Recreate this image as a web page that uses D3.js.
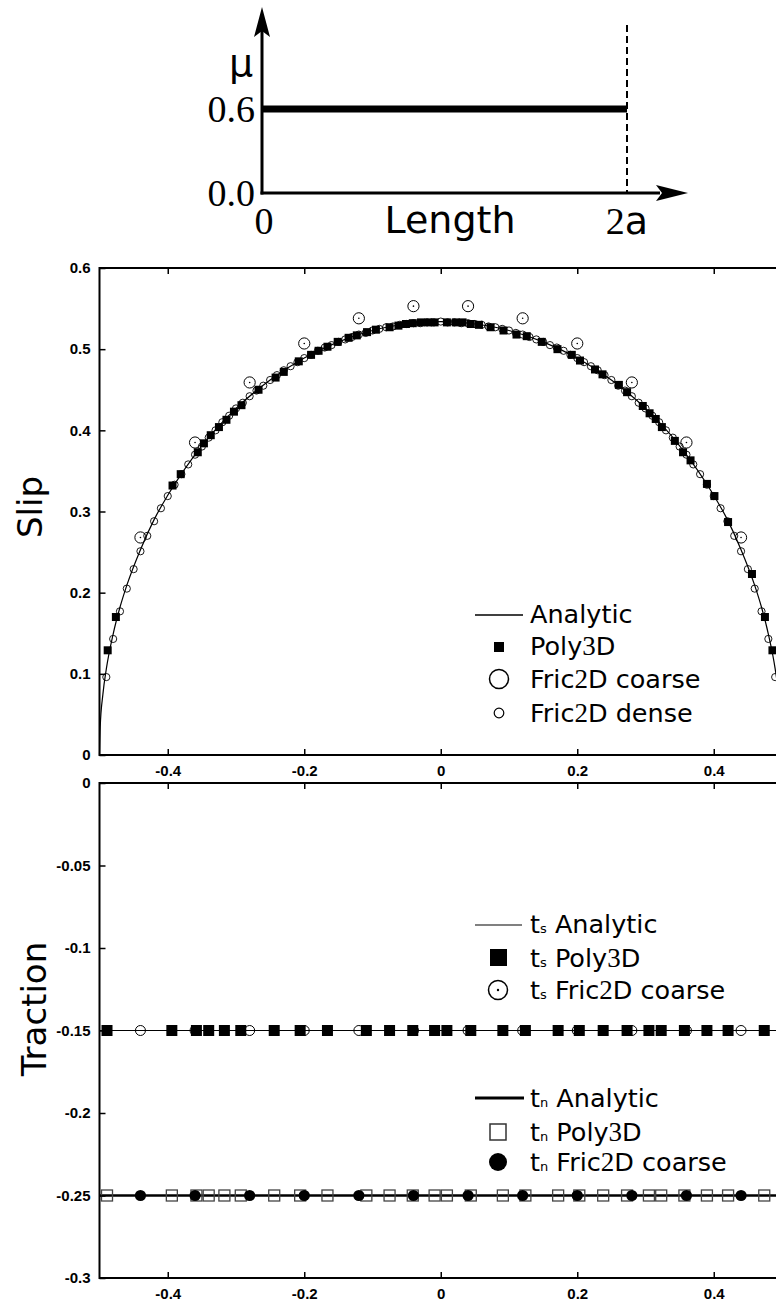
<!DOCTYPE html>
<html>
<head>
<meta charset="utf-8">
<style>
  body { margin: 0; background: #fff; }
  svg { display: block; }
</style>
</head>
<body>
<svg id="fig"></svg>
<script src="https://d3js.org/d3.v7.min.js"></script>
<script>

  // ---- data ----
  var xTicks = [-0.4, -0.2, 0, 0.2, 0.4];
  var xTickLabels = ["-0.4", "-0.2", "0", "0.2", "0.4"];
  var slipTicks = [0, 0.1, 0.2, 0.3, 0.4, 0.5, 0.6];
  var slipTickLabels = ["0", "0.1", "0.2", "0.3", "0.4", "0.5", "0.6"];
  var tracTicks = [0, -0.05, -0.1, -0.15, -0.2, -0.25, -0.3];
  var tracTickLabels = ["0", "-0.05", "-0.1", "-0.15", "-0.2", "-0.25", "-0.3"];

  // friction profile sketch (mu against length in units of a)
  var muLevels = [0, 0.6];
  var muLabels = ["0.0", "0.6"];
  var lengthEnds = [0, 2];

  // slip: analytic solution
  var analyticX = [-0.5, -0.499, -0.495, -0.49, -0.48, -0.47, -0.46, -0.44, -0.42, -0.4, -0.35, -0.3, -0.25, -0.2, -0.15, -0.1, -0.05, 0,
                   0.05, 0.1, 0.15, 0.2, 0.25, 0.3, 0.35, 0.4, 0.42, 0.44, 0.46, 0.47, 0.48, 0.49, 0.495, 0.499, 0.5];
  var analyticSlip = [0, 0.034, 0.075, 0.106, 0.149, 0.182, 0.209, 0.253, 0.290, 0.320, 0.381, 0.427, 0.462, 0.489, 0.509, 0.523, 0.531, 0.534,
                      0.531, 0.523, 0.509, 0.489, 0.462, 0.427, 0.381, 0.320, 0.290, 0.253, 0.209, 0.182, 0.149, 0.106, 0.075, 0.034, 0];

  // slip: Poly3D
  var polySlipX = [-0.488, -0.476, -0.393, -0.381, -0.356, -0.347, -0.337, -0.325, -0.314, -0.303, -0.292, -0.267, -0.242, -0.230, -0.208,
                   -0.190, -0.179, -0.166, -0.151, -0.135, -0.123, -0.108, -0.095, -0.075, -0.062, -0.051, -0.041, -0.029, -0.018, -0.009,
                   0.009, 0.022, 0.032, 0.044, 0.056, 0.073, 0.092, 0.111, 0.126, 0.148, 0.171, 0.192, 0.204, 0.226, 0.237, 0.261, 0.273,
                   0.296, 0.306, 0.315, 0.324, 0.343, 0.355, 0.366, 0.390, 0.401, 0.421, 0.456, 0.475, 0.486];
  var polySlip = [0.129, 0.170, 0.332, 0.346, 0.373, 0.384, 0.394, 0.404, 0.413, 0.423, 0.431, 0.450, 0.465, 0.472, 0.485,
                  0.493, 0.498, 0.503, 0.509, 0.514, 0.517, 0.521, 0.524, 0.527, 0.529, 0.531, 0.532, 0.533, 0.533, 0.533,
                  0.533, 0.533, 0.533, 0.531, 0.530, 0.527, 0.523, 0.518, 0.516, 0.509, 0.500, 0.493, 0.486, 0.475, 0.469, 0.456, 0.447,
                  0.430, 0.421, 0.414, 0.404, 0.387, 0.373, 0.363, 0.334, 0.319, 0.287, 0.223, 0.170, 0.129];

  // slip: Fric2D coarse
  var coarseX = [-0.44, -0.36, -0.28, -0.2, -0.12, -0.04, 0.04, 0.12, 0.2, 0.28, 0.36, 0.44];
  var coarseSlip = [0.268, 0.385, 0.459, 0.507, 0.538, 0.553, 0.553, 0.538, 0.507, 0.459, 0.385, 0.268];

  // slip: Fric2D dense
  var denseX = [-0.49, -0.48, -0.47, -0.46, -0.45, -0.44, -0.43, -0.42, -0.41, -0.40, -0.39, -0.38, -0.37, -0.36, -0.35, -0.34, -0.33,
                -0.32, -0.31, -0.30, -0.29, -0.28, -0.27, -0.26, -0.25, -0.24, -0.23, -0.22, -0.21, -0.20, -0.19, -0.18, -0.17, -0.16,
                -0.15, -0.14, -0.13, -0.12, -0.11, -0.10, -0.09, -0.08, -0.07, -0.06, -0.05, -0.04, -0.03, -0.02, -0.01, 0,
                0.01, 0.02, 0.03, 0.04, 0.05, 0.06, 0.07, 0.08, 0.09, 0.10, 0.11, 0.12, 0.13, 0.14, 0.15, 0.16, 0.17, 0.18, 0.19, 0.20,
                0.21, 0.22, 0.23, 0.24, 0.25, 0.26, 0.27, 0.28, 0.29, 0.30, 0.31, 0.32, 0.33, 0.34, 0.35, 0.36, 0.37, 0.38, 0.39, 0.40,
                0.41, 0.42, 0.43, 0.44, 0.45, 0.46, 0.47, 0.48, 0.49];
  var denseSlip = [0.096, 0.143, 0.177, 0.205, 0.229, 0.251, 0.270, 0.288, 0.304, 0.319, 0.333, 0.346, 0.358, 0.370, 0.380, 0.391, 0.400,
                   0.410, 0.418, 0.427, 0.434, 0.442, 0.449, 0.455, 0.462, 0.468, 0.474, 0.479, 0.484, 0.489, 0.493, 0.498, 0.502, 0.505,
                   0.509, 0.512, 0.515, 0.518, 0.520, 0.523, 0.525, 0.527, 0.528, 0.530, 0.531, 0.532, 0.532, 0.533, 0.533, 0.534,
                   0.533, 0.533, 0.532, 0.532, 0.531, 0.530, 0.528, 0.527, 0.525, 0.523, 0.520, 0.518, 0.515, 0.512, 0.509, 0.505, 0.502,
                   0.498, 0.493, 0.489, 0.484, 0.479, 0.474, 0.468, 0.462, 0.455, 0.449, 0.442, 0.434, 0.427, 0.418, 0.410, 0.400, 0.391,
                   0.380, 0.370, 0.358, 0.346, 0.333, 0.319, 0.304, 0.288, 0.270, 0.251, 0.229, 0.205, 0.177, 0.143, 0.096];

  // traction: analytic values over the fault
  var analyticEndsX = [-0.5, 0.5];
  var tsAnalytic = [-0.15, -0.15];
  var tnAnalytic = [-0.25, -0.25];

  // traction: Poly3D
  var polyTracX = [-0.489, -0.394, -0.358, -0.340, -0.317, -0.293, -0.244, -0.206, -0.166, -0.109, -0.075, -0.041, -0.009, 0.009,
                   0.044, 0.091, 0.124, 0.172, 0.203, 0.238, 0.273, 0.305, 0.323, 0.357, 0.390, 0.421, 0.474];
  var tsPoly = [-0.15, -0.15, -0.15, -0.15, -0.15, -0.15, -0.15, -0.15, -0.15, -0.15, -0.15, -0.15, -0.15, -0.15,
                -0.15, -0.15, -0.15, -0.15, -0.15, -0.15, -0.15, -0.15, -0.15, -0.15, -0.15, -0.15, -0.15];
  var tnPoly = [-0.25, -0.25, -0.25, -0.25, -0.25, -0.25, -0.25, -0.25, -0.25, -0.25, -0.25, -0.25, -0.25, -0.25,
                -0.25, -0.25, -0.25, -0.25, -0.25, -0.25, -0.25, -0.25, -0.25, -0.25, -0.25, -0.25, -0.25];

  // traction: Fric2D coarse (same x as coarseX)
  var tsCoarse = [-0.15, -0.15, -0.15, -0.15, -0.15, -0.15, -0.15, -0.15, -0.15, -0.15, -0.15, -0.15];
  var tnCoarse = [-0.25, -0.25, -0.25, -0.25, -0.25, -0.25, -0.25, -0.25, -0.25, -0.25, -0.25, -0.25];

  // ---- drawing ----
  var W = 776, H = 1303;
  var svg = d3.select("#fig").attr("width", W).attr("height", H);

  var SANS = "'DejaVu Sans', sans-serif";
  var SERIF = "'Liberation Serif', 'DejaVu Serif', serif";
  var TICKFONT = "'Liberation Sans', Arial, sans-serif";

  function zip(xs, ys) {
    return xs.map(function(x, i) { return {x: x, y: ys[i]}; });
  }

  // ---------- friction sketch at the top ----------
  var lenScale = d3.scaleLinear().domain([0, 2]).range([262, 627]);
  var muScale = d3.scaleLinear().domain([0, 0.6]).range([193, 109]);
  var sketch = svg.append("g");

  // axes with arrows
  sketch.append("line")
    .attr("x1", lenScale(0)).attr("x2", lenScale(0))
    .attr("y1", muScale(0) + 1.5).attr("y2", 30)
    .attr("stroke", "#000").attr("stroke-width", 3);
  sketch.append("path")
    .attr("d", "M" + lenScale(0) + ",7 L" + (lenScale(0) + 8) + ",37 L" + lenScale(0) + ",31 L" + (lenScale(0) - 8) + ",37 Z")
    .attr("fill", "#000");
  sketch.append("line")
    .attr("x1", lenScale(0) - 1.5).attr("x2", 660)
    .attr("y1", muScale(0)).attr("y2", muScale(0))
    .attr("stroke", "#000").attr("stroke-width", 3);
  sketch.append("path")
    .attr("d", "M688," + muScale(0) + " L656," + (muScale(0) - 8) + " L662," + muScale(0) + " L656," + (muScale(0) + 8) + " Z")
    .attr("fill", "#000");

  // dashed end of fault
  sketch.append("line")
    .attr("x1", lenScale(2)).attr("x2", lenScale(2))
    .attr("y1", 25).attr("y2", muScale(0))
    .attr("stroke", "#000").attr("stroke-width", 2)
    .attr("stroke-dasharray", "7,4");

  // constant friction coefficient
  sketch.append("line")
    .attr("x1", lenScale(lengthEnds[0])).attr("x2", lenScale(lengthEnds[1]))
    .attr("y1", muScale(muLevels[1])).attr("y2", muScale(muLevels[1]))
    .attr("stroke", "#000").attr("stroke-width", 7);

  sketch.selectAll("text.mu")
    .data(muLevels)
    .enter().append("text")
    .attr("x", 255)
    .attr("y", function(d) { return muScale(d) + 13; })
    .attr("text-anchor", "end")
    .attr("font-family", SERIF)
    .attr("font-size", 38)
    .text(function(d, i) { return muLabels[i]; });

  sketch.append("text")
    .attr("x", 241).attr("y", 76)
    .attr("text-anchor", "middle")
    .attr("font-family", SANS).attr("font-size", 38)
    .text("μ");

  sketch.append("text")
    .attr("x", lenScale(0) + 2).attr("y", 234)
    .attr("text-anchor", "middle")
    .attr("font-family", SERIF).attr("font-size", 38)
    .text("0");
  sketch.append("text")
    .attr("x", 450).attr("y", 233)
    .attr("text-anchor", "middle")
    .attr("font-family", SANS).attr("font-size", 38)
    .text("Length");
  var twoA = sketch.append("text")
    .attr("x", lenScale(2)).attr("y", 234)
    .attr("text-anchor", "middle")
    .attr("font-size", 38);
  twoA.append("tspan").attr("font-family", SERIF).text("2");
  twoA.append("tspan").attr("font-family", SANS).text("a");

  // ---------- shared x scale ----------
  var x = d3.scaleLinear().domain([-0.5, 0.5]).range([99.5, 782]);

  function frameAxes(g, y, yTicks, yLabels, showXLabels) {
    var y0 = y.range()[0], y1 = y.range()[1];
    var xl = x.range()[0], xr = x.range()[1];

    var left = g.append("g")
      .attr("transform", "translate(" + xl + ",0)")
      .call(d3.axisLeft(y).tickValues(yTicks)
        .tickFormat(function(d, i) { return yLabels[i]; })
        .tickSizeInner(-6).tickSizeOuter(0).tickPadding(9));
    var right = g.append("g")
      .attr("transform", "translate(" + xr + ",0)")
      .call(d3.axisRight(y).tickValues(yTicks).tickFormat("")
        .tickSizeInner(-6).tickSizeOuter(0));
    var top = g.append("g")
      .attr("transform", "translate(0," + y1 + ")")
      .call(d3.axisTop(x).tickValues(xTicks).tickFormat("")
        .tickSizeInner(-6).tickSizeOuter(0));
    var bottom = g.append("g")
      .attr("transform", "translate(0," + y0 + ")")
      .call(d3.axisBottom(x).tickValues(xTicks)
        .tickFormat(function(d, i) { return showXLabels ? xTickLabels[i] : ""; })
        .tickSizeInner(-6).tickSizeOuter(0).tickPadding(10));

    [left, right, top, bottom].forEach(function(a) {
      a.select(".domain").remove();
      a.selectAll(".tick line").attr("stroke-width", 1.5);
      a.attr("font-family", TICKFONT).attr("font-size", 15);
      a.selectAll("text").attr("font-weight", "bold").attr("fill", "#000");
    });

    g.append("rect")
      .attr("x", xl).attr("y", y1)
      .attr("width", xr - xl).attr("height", y0 - y1)
      .attr("fill", "none").attr("stroke", "#000").attr("stroke-width", 2);
  }

  function legendText(g, tx, ty, parts) {
    var t = g.append("text")
      .attr("x", tx).attr("y", ty)
      .attr("font-family", SANS).attr("font-size", 25.5).attr("fill", "#000");
    parts.forEach(function(p) {
      var s = t.append("tspan").text(p[0]);
      if (p[1] === "serif") s.attr("font-family", SERIF).attr("font-size", 27);
      if (p[1] === "sub") s.attr("font-size", 13);
    });
  }

  // ---------- slip panel ----------
  var ySlip = d3.scaleLinear().domain([0, 0.6]).range([755, 268]);
  var slipG = svg.append("g");

  var line = d3.line()
    .x(function(d) { return x(d.x); })
    .y(function(d) { return ySlip(d.y); })
    .curve(d3.curveMonotoneX);

  slipG.append("path")
    .datum(zip(analyticX, analyticSlip))
    .attr("d", line)
    .attr("fill", "none").attr("stroke", "#000").attr("stroke-width", 1.2);

  slipG.selectAll("circle.dense")
    .data(zip(denseX, denseSlip))
    .enter().append("circle")
    .attr("class", "dense")
    .attr("cx", function(d) { return x(d.x); })
    .attr("cy", function(d) { return ySlip(d.y); })
    .attr("r", 3.6)
    .attr("fill", "none").attr("stroke", "#000").attr("stroke-width", 0.9);

  slipG.selectAll("rect.poly")
    .data(zip(polySlipX, polySlip))
    .enter().append("rect")
    .attr("class", "poly")
    .attr("x", function(d) { return x(d.x) - 4; })
    .attr("y", function(d) { return ySlip(d.y) - 4; })
    .attr("width", 8).attr("height", 8)
    .attr("fill", "#000");

  var coarse = slipG.selectAll("g.coarse")
    .data(zip(coarseX, coarseSlip))
    .enter().append("g")
    .attr("class", "coarse")
    .attr("transform", function(d) { return "translate(" + x(d.x) + "," + ySlip(d.y) + ")"; });
  coarse.append("circle").attr("r", 5.6)
    .attr("fill", "none").attr("stroke", "#000").attr("stroke-width", 1);
  coarse.append("circle").attr("r", 0.8).attr("fill", "#000");

  frameAxes(slipG, ySlip, slipTicks, slipTickLabels, true);

  svg.append("text")
    .attr("transform", "translate(42,507) rotate(-90)")
    .attr("text-anchor", "middle")
    .attr("font-family", SANS).attr("font-size", 34)
    .text("Slip");

  // slip legend
  var lg1 = svg.append("g");
  lg1.append("line").attr("x1", 475).attr("x2", 523).attr("y1", 615).attr("y2", 615)
    .attr("stroke", "#000").attr("stroke-width", 1.5);
  legendText(lg1, 530, 623, [["Analytic"]]);
  lg1.append("rect").attr("x", 494).attr("y", 642).attr("width", 10).attr("height", 10).attr("fill", "#000");
  legendText(lg1, 530, 655, [["Poly"], ["3", "serif"], ["D"]]);
  lg1.append("circle").attr("cx", 499).attr("cy", 679).attr("r", 9.5)
    .attr("fill", "none").attr("stroke", "#000").attr("stroke-width", 1.5);
  legendText(lg1, 530, 688, [["Fric"], ["2", "serif"], ["D coarse"]]);
  lg1.append("circle").attr("cx", 499).attr("cy", 713).attr("r", 4.8)
    .attr("fill", "none").attr("stroke", "#000").attr("stroke-width", 1.2);
  legendText(lg1, 530, 722, [["Fric"], ["2", "serif"], ["D dense"]]);

  // ---------- traction panel ----------
  var yTrac = d3.scaleLinear().domain([-0.3, 0]).range([1278, 783]);
  var tracG = svg.append("g");

  var tline = d3.line()
    .x(function(d) { return x(d.x); })
    .y(function(d) { return yTrac(d.y); });

  tracG.append("path")
    .datum(zip(analyticEndsX, tsAnalytic))
    .attr("d", tline)
    .attr("stroke", "#000").attr("stroke-width", 1.2);
  tracG.append("path")
    .datum(zip(analyticEndsX, tnAnalytic))
    .attr("d", tline)
    .attr("stroke", "#000").attr("stroke-width", 2.6);

  // ts Fric2D coarse (open circles) under ts Poly3D squares
  tracG.selectAll("circle.tsc")
    .data(zip(coarseX, tsCoarse))
    .enter().append("circle")
    .attr("class", "tsc")
    .attr("cx", function(d) { return x(d.x); })
    .attr("cy", function(d) { return yTrac(d.y); })
    .attr("r", 5)
    .attr("fill", "none").attr("stroke", "#000").attr("stroke-width", 1);
  tracG.selectAll("rect.tsp")
    .data(zip(polyTracX, tsPoly))
    .enter().append("rect")
    .attr("class", "tsp")
    .attr("x", function(d) { return x(d.x) - 5.5; })
    .attr("y", function(d) { return yTrac(d.y) - 5.5; })
    .attr("width", 11).attr("height", 11)
    .attr("fill", "#000");

  // tn Poly3D (open squares) under tn Fric2D coarse (filled circles)
  tracG.selectAll("rect.tnp")
    .data(zip(polyTracX, tnPoly))
    .enter().append("rect")
    .attr("class", "tnp")
    .attr("x", function(d) { return x(d.x) - 5.5; })
    .attr("y", function(d) { return yTrac(d.y) - 5.5; })
    .attr("width", 11).attr("height", 11)
    .attr("fill", "none").attr("stroke", "#444").attr("stroke-width", 1.3);
  tracG.selectAll("circle.tnc")
    .data(zip(coarseX, tnCoarse))
    .enter().append("circle")
    .attr("class", "tnc")
    .attr("cx", function(d) { return x(d.x); })
    .attr("cy", function(d) { return yTrac(d.y); })
    .attr("r", 5.6)
    .attr("fill", "#000");

  frameAxes(tracG, yTrac, tracTicks, tracTickLabels, true);

  svg.append("text")
    .attr("transform", "translate(46,1009) rotate(-90)")
    .attr("text-anchor", "middle")
    .attr("font-family", SANS).attr("font-size", 34)
    .text("Traction");

  // traction legend
  var lg2 = svg.append("g");
  lg2.append("line").attr("x1", 475).attr("x2", 522).attr("y1", 925).attr("y2", 925)
    .attr("stroke", "#808080").attr("stroke-width", 2);
  legendText(lg2, 530, 933, [["t"], ["s", "sub"], [" Analytic"]]);
  lg2.append("rect").attr("x", 490).attr("y", 949).attr("width", 17).attr("height", 17).attr("fill", "#000");
  legendText(lg2, 530, 967, [["t"], ["s", "sub"], [" Poly"], ["3", "serif"], ["D"]]);
  lg2.append("circle").attr("cx", 498).attr("cy", 990).attr("r", 9.5)
    .attr("fill", "none").attr("stroke", "#000").attr("stroke-width", 1.5);
  lg2.append("circle").attr("cx", 498).attr("cy", 990).attr("r", 1.2).attr("fill", "#000");
  legendText(lg2, 530, 999, [["t"], ["s", "sub"], [" Fric"], ["2", "serif"], ["D coarse"]]);

  lg2.append("line").attr("x1", 475).attr("x2", 524).attr("y1", 1098).attr("y2", 1098)
    .attr("stroke", "#000").attr("stroke-width", 3);
  legendText(lg2, 530, 1107, [["t"], ["n", "sub"], [" Analytic"]]);
  lg2.append("rect").attr("x", 490).attr("y", 1124).attr("width", 16).attr("height", 16)
    .attr("fill", "none").attr("stroke", "#333").attr("stroke-width", 1.5);
  legendText(lg2, 530, 1141, [["t"], ["n", "sub"], [" Poly"], ["3", "serif"], ["D"]]);
  lg2.append("circle").attr("cx", 498).attr("cy", 1162).attr("r", 9).attr("fill", "#000");
  legendText(lg2, 530, 1171, [["t"], ["n", "sub"], [" Fric"], ["2", "serif"], ["D coarse"]]);

</script>
</body>
</html>
